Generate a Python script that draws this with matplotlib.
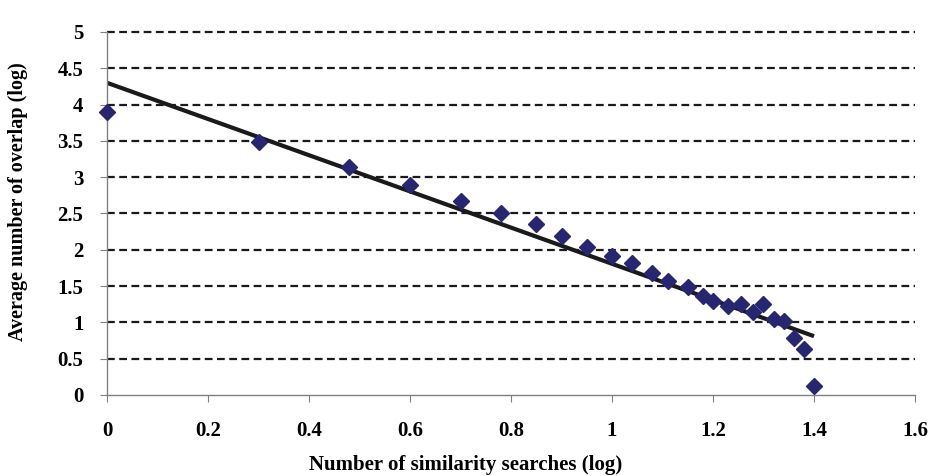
import numpy as np
import matplotlib.pyplot as plt

# data
searches_log = [0, 0.30, 0.48, 0.60, 0.70, 0.78, 0.85, 0.90, 0.95, 1.00,
                1.04, 1.08, 1.11, 1.15, 1.18, 1.20, 1.23, 1.255, 1.28, 1.30,
                1.32, 1.34, 1.36, 1.38, 1.40]
overlap_log = [3.90, 3.49, 3.14, 2.89, 2.67, 2.51, 2.36, 2.19, 2.04, 1.92,
               1.82, 1.68, 1.57, 1.49, 1.36, 1.30, 1.23, 1.25, 1.14, 1.25,
               1.05, 1.02, 0.79, 0.64, 0.13]
trend_x = [0, 1.40]
trend_y = [4.30, 0.81]

plt.rcParams['font.family'] = ['Liberation Serif', 'DejaVu Serif']
plt.rcParams['font.weight'] = 'bold'

fig = plt.figure(figsize=(9.33, 4.76), dpi=100)
ax = fig.add_axes([0.1147, 0.1702, 0.866, 0.7626])

for yv in np.arange(0.5, 5.01, 0.5):
    ax.axhline(yv, color='#1a1a1a', lw=1.6, ls=(0, (3.5, 2)), zorder=1,
               clip_on=False)

ax.plot(trend_x, trend_y, color='#1a1a1a', lw=3, zorder=2,
        solid_capstyle='butt')
ax.plot(searches_log, overlap_log, ls='none', marker='D', ms=8,
        color='#262673', mec='#262673', zorder=3, clip_on=False)

ax.set_xlim(0, 1.6)
ax.set_ylim(0, 5)
ax.set_xticks(np.arange(0, 1.61, 0.2))
ax.set_xticklabels(['0', '0.2', '0.4', '0.6', '0.8', '1', '1.2', '1.4', '1.6'])
ax.set_yticks(np.arange(0, 5.01, 0.5))
ax.set_yticklabels(['0', '0.5', '1', '1.5', '2', '2.5', '3', '3.5', '4', '4.5', '5'])

for s in ['top', 'right']:
    ax.spines[s].set_visible(False)
for s in ['left', 'bottom']:
    ax.spines[s].set_color('#808080')
    ax.spines[s].set_linewidth(1)
ax.tick_params(axis='both', direction='out', length=5, color='#808080',
               labelsize=15)
ax.tick_params(axis='y', pad=12)
ax.tick_params(axis='x', pad=14)

fig.text(466 / 933, 1 - 465 / 476, 'Number of similarity searches (log)',
         ha='center', va='center', fontsize=15, fontweight='bold')
fig.text(18 / 933, 1 - 202 / 476, 'Average number of overlap (log)',
         ha='center', va='center', rotation=90, fontsize=14.5, fontweight='bold')

fig.savefig('out.png', dpi=100)
